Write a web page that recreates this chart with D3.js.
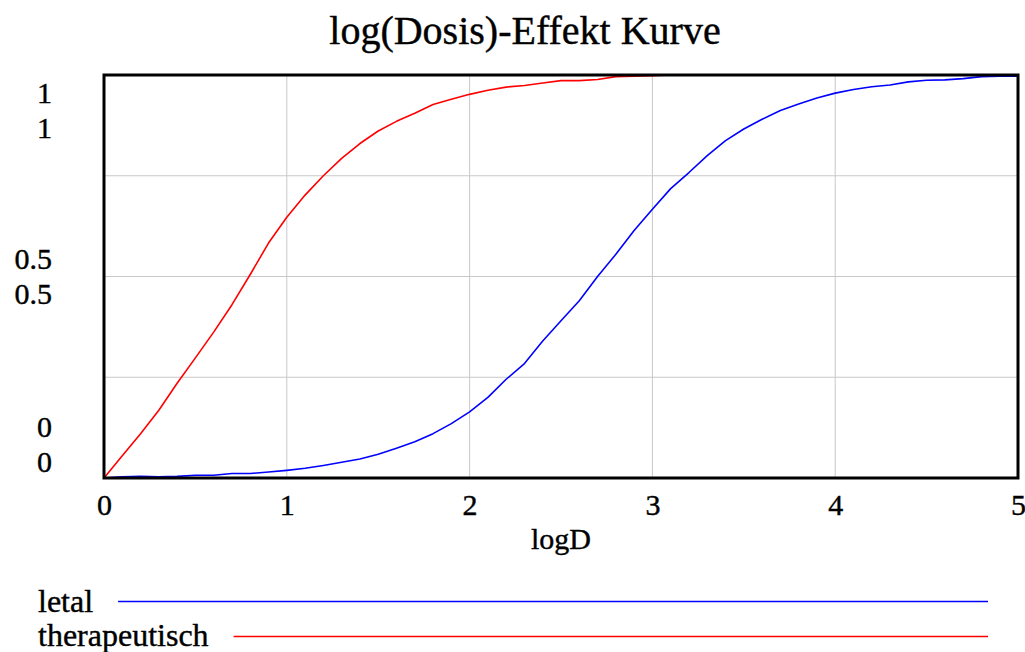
<!DOCTYPE html>
<html>
<head>
<meta charset="utf-8">
<script src="https://cdn.jsdelivr.net/npm/d3@7"></script>
<style>
html,body{margin:0;padding:0;background:#fff;}
svg{display:block;}
svg text{stroke:#000;stroke-width:0.4px;}
</style>
</head>
<body>
<svg id="chart" width="1025" height="652"></svg>
<script>
const title = "log(Dosis)-Effekt Kurve";
const xLabel = "logD";
const seriesNames = ["letal", "therapeutisch"];
const seriesColors = ["#0000ff", "#ff0000"];
const xTicks = [0, 1, 2, 3, 4, 5];
const yTicks = [0, 0.5, 1];
const logD = d3.range(0, 51).map(i => +(i / 10).toFixed(1));
const letal = [
  0, 0.003, 0.004, 0.003, 0.004, 0.007, 0.007, 0.011, 0.011, 0.015,
  0.019, 0.024, 0.031, 0.039, 0.047, 0.059, 0.074, 0.090, 0.110, 0.135,
  0.164, 0.200, 0.245, 0.284, 0.340, 0.390, 0.440, 0.500, 0.555, 0.614,
  0.667, 0.718, 0.758, 0.800, 0.837, 0.866, 0.890, 0.912, 0.928, 0.943,
  0.955, 0.964, 0.971, 0.975, 0.983, 0.987, 0.988, 0.991, 0.996, 0.997,
  0.997
];
const therapeutisch = [
  0, 0.055, 0.110, 0.168, 0.235, 0.298, 0.362, 0.430, 0.505, 0.583,
  0.647, 0.702, 0.750, 0.793, 0.830, 0.861, 0.885, 0.905, 0.927, 0.940,
  0.952, 0.962, 0.970, 0.974, 0.980, 0.986, 0.986, 0.989, 0.996, 0.997,
  0.998, 1, 1, 1, 1, 1, 1, 1, 1, 1,
  1, 1, 1, 1, 1, 1, 1, 1, 1, 1,
  1
];
const seriesValues = [letal, therapeutisch];

(function () {
const FONT = "Liberation Serif";
const svg = d3.select("#chart");
const pL = 104, pR = 1018, pT = 75, pB = 478;
const x = d3.scaleLinear().domain([0, 5]).range([pL, pR]);
const y = d3.scaleLinear().domain([0, 1]).range([pB, pT]);

// title
svg.append("text").attr("x", 525).attr("y", 44).attr("text-anchor", "middle")
  .attr("font-family", FONT).attr("font-size", 40).attr("fill", "#000").text(title);

// grid
const g = svg.append("g");
g.selectAll("line.vg").data(xTicks.slice(1, -1)).enter().append("line")
  .attr("x1", d => x(d)).attr("x2", d => x(d)).attr("y1", pT).attr("y2", pB)
  .attr("stroke", "#c8c8c8").attr("stroke-width", 1);
g.selectAll("line.hg").data([0.25, 0.5, 0.75]).enter().append("line")
  .attr("y1", d => y(d)).attr("y2", d => y(d)).attr("x1", pL).attr("x2", pR)
  .attr("stroke", "#c8c8c8").attr("stroke-width", 1);

// x axis labels
const xAxis = d3.axisBottom(x).tickValues(xTicks).tickSize(0).tickPadding(0).tickFormat(d3.format("d"));
const xa = svg.append("g").attr("transform", `translate(0,${pB})`).call(xAxis);
xa.select(".domain").remove();
xa.selectAll("text").attr("font-size", 30).attr("font-family", FONT)
  .attr("fill", "#000").attr("dy", null).attr("y", 37);

svg.append("text").attr("x", (pL + pR) / 2).attr("y", 549).attr("text-anchor", "middle")
  .attr("font-family", FONT).attr("font-size", 30).attr("fill", "#000").text(xLabel);

// y labels, one per series, stacked
const lineGap = 35, groupH = 55, capH = 20;
const fmt = d3.format("~g");
yTicks.forEach(t => {
  let gt = y(t) - groupH / 2;
  gt = Math.max(pT + 8, Math.min(pB - 6 - groupH, gt));
  seriesNames.forEach((s, i) => {
    svg.append("text").attr("x", 52).attr("y", gt + capH + i * lineGap)
      .attr("text-anchor", "end").attr("font-family", FONT).attr("font-size", 30)
      .attr("fill", "#000").text(fmt(t));
  });
});

// lines
const line = d3.line().x((d, i) => x(logD[i])).y(d => y(d));
seriesValues.forEach((vals, i) => {
  svg.append("path").datum(vals).attr("d", line).attr("fill", "none")
    .attr("stroke", seriesColors[i]).attr("stroke-width", 1.6).attr("stroke-linejoin", "round");
});

// frame
svg.append("rect").attr("x", pL).attr("y", pT).attr("width", pR - pL).attr("height", pB - pT)
  .attr("fill", "none").attr("stroke", "#000").attr("stroke-width", 3);

// legend
const legY = [612, 646];
const lineY = [601.5, 636.5];
seriesNames.forEach((s, i) => {
  const t = svg.append("text").attr("x", 38).attr("y", legY[i])
    .attr("font-family", FONT).attr("font-size", 32).attr("fill", "#000").text(s);
  const w = t.node().getComputedTextLength();
  svg.append("line").attr("x1", 38 + w + 25).attr("x2", 988).attr("y1", lineY[i]).attr("y2", lineY[i])
    .attr("stroke", seriesColors[i]).attr("stroke-width", 1.6);
});
})();
</script>
</body>
</html>
